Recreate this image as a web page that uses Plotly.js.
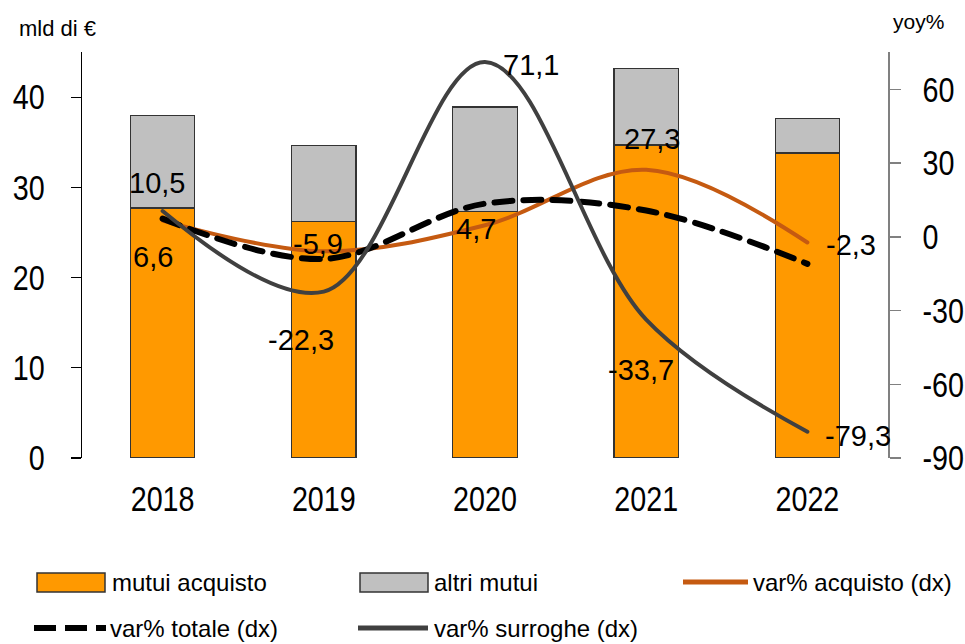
<!DOCTYPE html>
<html>
<head>
<meta charset="utf-8">
<script src="https://cdn.plot.ly/plotly-3.0.1.min.js"></script>
<style>
html,body{margin:0;padding:0;background:#fff;}
#chart{width:965px;height:644px;}
</style>
</head>
<body>
<div id="chart"></div>
<script>
const years = ['2018', '2019', '2020', '2021', '2022'];
const mutuiAcquisto = [27.7, 26.2, 27.3, 34.7, 33.8];
const altriMutui = [10.3, 8.4, 11.6, 8.5, 3.8];
const varAcquisto = [6.6, -5.9, 4.7, 27.3, -2.3];
const varTotale = [7.4, -9.0, 13.5, 10.7, -11.0];
const varSurroghe = [10.5, -22.3, 71.1, -33.7, -79.3];
const leftTicks = [0, 10, 20, 30, 40];
const rightTicks = [-90, -60, -30, 0, 30, 60];

const FONT = '"Liberation Sans", Arial, sans-serif';
const W = 965, H = 644, L = 82, R = 888, T = 52, B = 458;
const px = x => (x - L) / (R - L);
const py = y => (B - y) / (B - T);
const fmt = v => v.toFixed(1).replace('.', ',');

const traces = [
  {type: 'bar', x: years, y: mutuiAcquisto, name: 'mutui acquisto', width: 0.4,
   marker: {color: '#FF9900', line: {color: '#333333', width: 1.2}}, showlegend: false},
  {type: 'bar', x: years, y: altriMutui, name: 'altri mutui', width: 0.4,
   marker: {color: '#C0C0C0', line: {color: '#333333', width: 1.2}}, showlegend: false},
  {type: 'scatter', mode: 'lines', x: years, y: varAcquisto, yaxis: 'y2', name: 'var% acquisto (dx)',
   line: {color: '#C55A11', width: 4, shape: 'spline', smoothing: 1}, showlegend: false},
  {type: 'scatter', mode: 'lines', x: years, y: varTotale, yaxis: 'y2', name: 'var% totale (dx)',
   line: {color: '#000000', width: 6, shape: 'spline', smoothing: 1, dash: '18px,11px'}, showlegend: false},
  {type: 'scatter', mode: 'lines', x: years, y: varSurroghe, yaxis: 'y2', name: 'var% surroghe (dx)',
   line: {color: '#404040', width: 4, shape: 'spline', smoothing: 1}, showlegend: false}
];

const surOff = [[-6, 28], [-23, -48], [46, -3], [-5, -50], [51, -4]];
const acqOff = [[-10, -36], [-6, 7], [-9, -4], [6, 31], [44, -3]];
const annotations = [];
years.forEach((yr, i) => {
  annotations.push({x: i, y: varSurroghe[i], xref: 'x', yref: 'y2', text: fmt(varSurroghe[i]),
    showarrow: false, xshift: surOff[i][0], yshift: surOff[i][1], font: {family: FONT, size: 29, color: '#000'}});
  annotations.push({x: i, y: varAcquisto[i], xref: 'x', yref: 'y2', text: fmt(varAcquisto[i]),
    showarrow: false, xshift: acqOff[i][0], yshift: acqOff[i][1], font: {family: FONT, size: 29, color: '#000'}});
});

annotations.push({xref: 'paper', yref: 'paper', x: px(17), y: py(28), xanchor: 'left', yanchor: 'middle',
  text: 'mld di €', showarrow: false, font: {family: FONT, size: 22, color: '#000'}});
annotations.push({xref: 'paper', yref: 'paper', x: px(891), y: py(22), xanchor: 'left', yanchor: 'middle',
  text: 'yoy%', showarrow: false, font: {family: FONT, size: 21, color: '#000'}});

const legItems = [
  {text: 'mutui acquisto', x: 110, y: 582},
  {text: 'altri mutui', x: 432, y: 582},
  {text: 'var% acquisto (dx)', x: 751, y: 582},
  {text: 'var% totale (dx)', x: 108, y: 628},
  {text: 'var% surroghe (dx)', x: 432, y: 628}
];
legItems.forEach(it => annotations.push({xref: 'paper', yref: 'paper', x: px(it.x), y: py(it.y),
  xanchor: 'left', yanchor: 'middle', text: it.text, showarrow: false,
  font: {family: FONT, size: 24, color: '#000'}}));

const shapes = [
  {type: 'rect', xref: 'paper', yref: 'paper', x0: px(37), x1: px(105), y0: py(592), y1: py(573),
   fillcolor: '#FF9900', line: {color: '#333333', width: 1.5}},
  {type: 'rect', xref: 'paper', yref: 'paper', x0: px(360), x1: px(428), y0: py(592), y1: py(573),
   fillcolor: '#C0C0C0', line: {color: '#333333', width: 1.5}},
  {type: 'line', xref: 'paper', yref: 'paper', x0: px(683), x1: px(748), y0: py(582), y1: py(582),
   line: {color: '#C55A11', width: 5}},
  {type: 'line', xref: 'paper', yref: 'paper', x0: px(34), x1: px(106), y0: py(628), y1: py(628),
   line: {color: '#000000', width: 6, dash: '22px,9px'}},
  {type: 'line', xref: 'paper', yref: 'paper', x0: px(358), x1: px(428), y0: py(628), y1: py(628),
   line: {color: '#404040', width: 5}}
];

const layout = {
  width: W, height: H,
  margin: {l: L, r: W - R, t: T, b: H - B, pad: 0},
  paper_bgcolor: '#ffffff', plot_bgcolor: '#ffffff',
  barmode: 'stack', showlegend: false, separators: ',.',
  font: {family: FONT, color: '#000'},
  xaxis: {type: 'category', range: [-0.5, 4.5], showline: false, ticks: '', showgrid: false, zeroline: false,
    tickfont: {family: FONT, size: 35, color: '#000'}, ticklabelstandoff: 17},
  yaxis: {range: [0, 45], tickvals: leftTicks, ticktext: leftTicks.map(String), showgrid: false, zeroline: false, showline: true,
    linecolor: '#000000', linewidth: 1.2, ticks: 'outside', ticklen: 10, tickcolor: '#000', tickwidth: 1.2,
    tickfont: {family: FONT, size: 35, color: '#000'}, ticklabelstandoff: 19},
  yaxis2: {range: [-90, 75.2], tickvals: rightTicks, ticktext: rightTicks.map(String), overlaying: 'y', side: 'right', showgrid: false,
    zeroline: false, showline: true, linecolor: '#808080', linewidth: 1.5, ticks: 'outside', ticklen: 11,
    tickcolor: '#808080', tickwidth: 1.5, tickfont: {family: FONT, size: 35, color: '#000'}, ticklabelstandoff: 15},
  annotations: annotations,
  shapes: shapes
};

Plotly.newPlot('chart', traces, layout, {staticPlot: true}).then(() => {
  document.querySelectorAll('.scatterlayer .js-line').forEach(p => { p.style.strokeLinecap = 'round'; });
  // condensed digits for the axis tick labels
  document.querySelectorAll('.xtick text, .ytick text, .y2tick text').forEach(t => {
    const len = t.getComputedTextLength();
    t.setAttribute('textLength', (len * 0.82).toFixed(2));
    t.setAttribute('lengthAdjust', 'spacingAndGlyphs');
  });
});
</script>
</body>
</html>
